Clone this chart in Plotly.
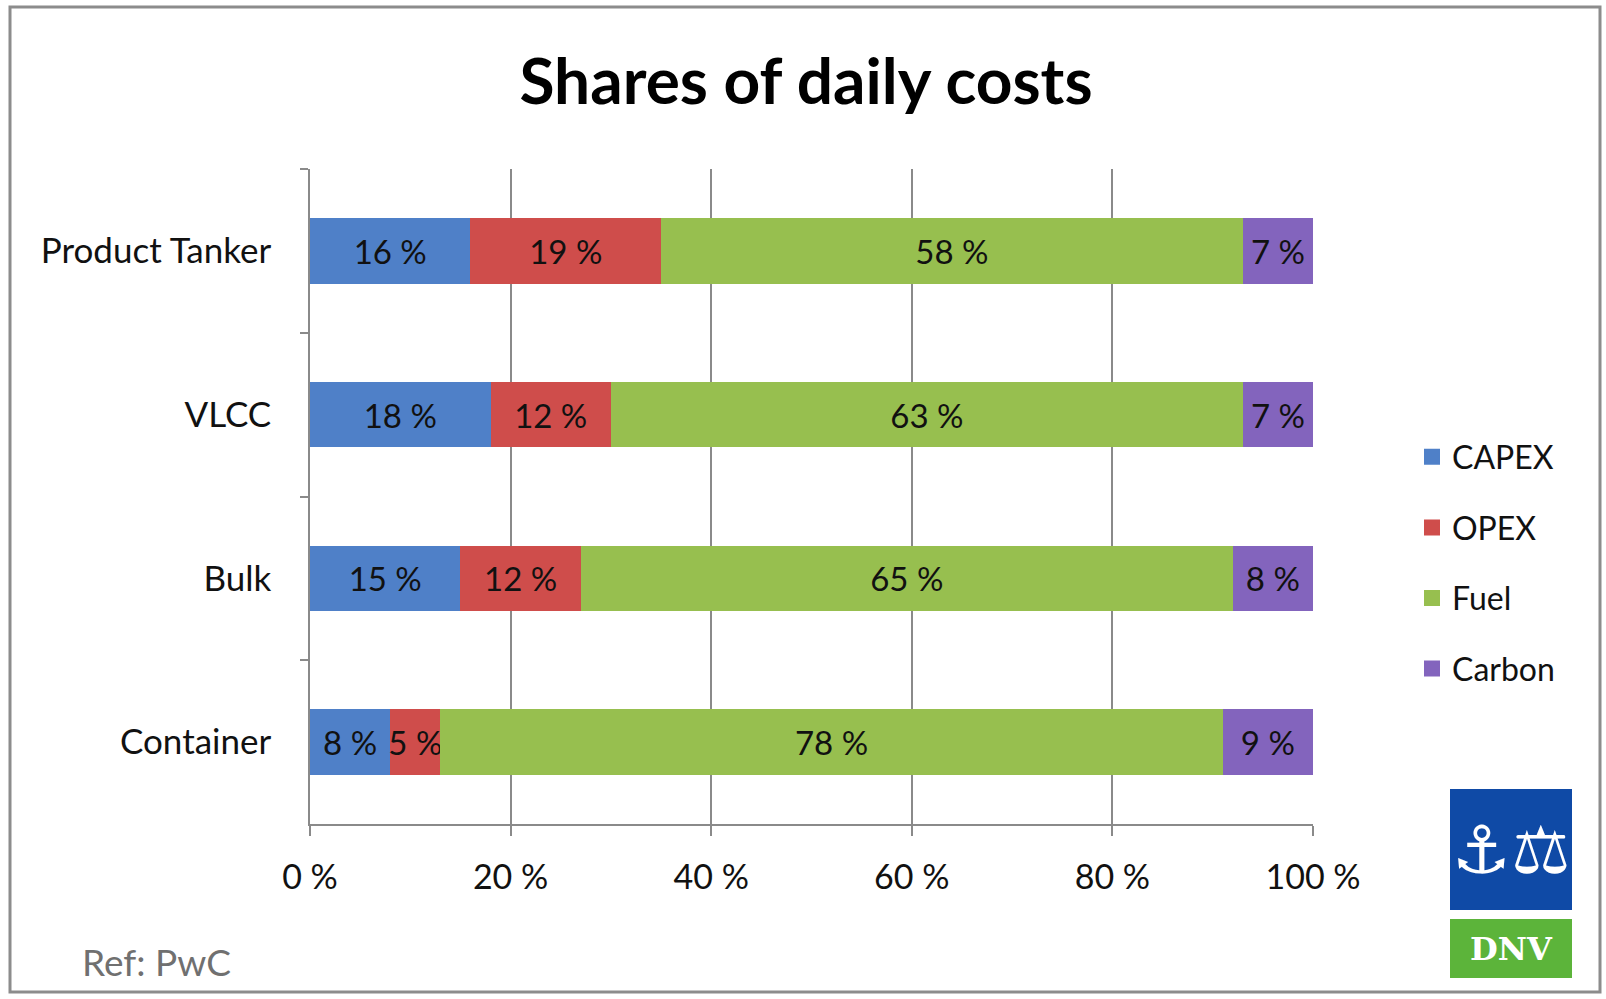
import plotly.graph_objects as go

categories = ["Product Tanker", "VLCC", "Bulk", "Container"]
series_names = ["CAPEX", "OPEX", "Fuel", "Carbon"]
capex = [16, 18, 15, 8]
opex = [19, 12, 12, 5]
fuel = [58, 63, 65, 78]
carbon = [7, 7, 8, 9]
x_ticks = [0, 20, 40, 60, 80, 100]
x_tick_labels = ["0 %", "20 %", "40 %", "60 %", "80 %", "100 %"]

colors = ["#4f80c8", "#cf4d4b", "#97bf4f", "#8364bd"]
values = [capex, opex, fuel, carbon]

FONT = "Lato, Carlito, 'Open Sans', sans-serif"

fig = go.Figure()
for name, vals, col in zip(series_names, values, colors):
    fig.add_trace(go.Bar(
        y=categories, x=vals, name=name, orientation="h",
        marker=dict(color=col, line=dict(width=0)),
        text=[f"{v} %" for v in vals], textposition="inside", textangle=0,
        insidetextanchor="middle", constraintext="none",
        textfont=dict(family=FONT, size=33, color="#111111"),
        width=0.4, showlegend=False, hoverinfo="x+y+name",
    ))
# legend entries
for i, (name, col) in enumerate(zip(series_names, colors)):
    fig.add_trace(go.Scatter(
        x=[None], y=[None], mode="markers", name=name,
        marker=dict(symbol="square", size=19, color=col),
        legendgroup=name, showlegend=True,
    ))

L, R, T, B = 310, 1606 - 1313, 169, 999 - 824
pw, ph = 1606 - L - R, 999 - T - B

def px(xp):
    return (xp - L) / pw

def py(yp):
    return (999 - B - yp) / ph

fig.update_layout(
    width=1606, height=999, autosize=False,
    margin=dict(l=L, r=R, t=T, b=B),
    paper_bgcolor="white", plot_bgcolor="white",
    barmode="stack", bargap=0.6,
    font=dict(family=FONT, color="black"),
    title=dict(text="<b>Shares of daily costs</b>", x=px(806), xref="paper",
               xanchor="center", y=1 - 82 / 999, yanchor="middle",
               font=dict(family=FONT, size=64, color="black")),
    legend=dict(x=px(1412), xanchor="left", y=py(563), yanchor="middle",
                font=dict(family=FONT, size=32, color="#111111"),
                tracegroupgap=26, traceorder="grouped",
                bgcolor="rgba(0,0,0,0)", itemclick=False),
    showlegend=True,
)
fig.update_xaxes(
    range=[0, 100], tickvals=x_ticks, ticktext=x_tick_labels,
    showgrid=True, gridcolor="#8a8a8a", gridwidth=1.5,
    showline=True, linecolor="#8a8a8a", linewidth=1.5,
    ticks="outside", ticklen=10, tickcolor="#8a8a8a", tickwidth=1.5,
    tickfont=dict(family=FONT, size=34, color="#111111"),
    ticklabelstandoff=12, zeroline=False, fixedrange=True,
)
fig.update_yaxes(
    categoryorder="array", categoryarray=categories, autorange="reversed",
    showline=True, linecolor="#8a8a8a", linewidth=1.5,
    ticks="outside", tickson="boundaries", ticklen=8, tickcolor="#8a8a8a",
    tickwidth=1.5, showgrid=False,
    tickfont=dict(family=FONT, size=35, color="#111111"),
    ticklabelstandoff=30, fixedrange=True,
)

# outer frame
fig.add_shape(type="rect", xref="paper", yref="paper",
              x0=px(10), x1=px(1600), y0=py(992), y1=py(7),
              line=dict(color="#8c8c8c", width=3), fillcolor="rgba(0,0,0,0)",
              layer="below")

# reference note
fig.add_annotation(text="Ref: PwC", xref="paper", yref="paper",
                   x=px(80), y=py(961), xanchor="left", yanchor="middle",
                   showarrow=False, font=dict(family=FONT, size=37, color="#707070"))

# DNV logo
fig.add_shape(type="rect", xref="paper", yref="paper",
              x0=px(1450), x1=px(1572), y0=py(910), y1=py(789),
              line=dict(width=0), fillcolor="#0f4aa6")
fig.add_shape(type="rect", xref="paper", yref="paper",
              x0=px(1450), x1=px(1572), y0=py(978), y1=py(919),
              line=dict(width=0), fillcolor="#5cb43a")
fig.add_annotation(text="⚓⚖", xref="paper", yref="paper",
                   x=px(1511), y=py(850), xanchor="center", yanchor="middle",
                   showarrow=False, font=dict(family="DejaVu Sans", size=66, color="white"))
fig.add_annotation(text="<b>DNV</b>", xref="paper", yref="paper",
                   x=px(1511), y=py(949), xanchor="center", yanchor="middle",
                   showarrow=False, font=dict(family="DejaVu Serif", size=32, color="white"))

fig.write_html("out.html", config={"displayModeBar": False},
               post_script="document.body.style.margin='0';document.body.style.overflow='hidden';")
